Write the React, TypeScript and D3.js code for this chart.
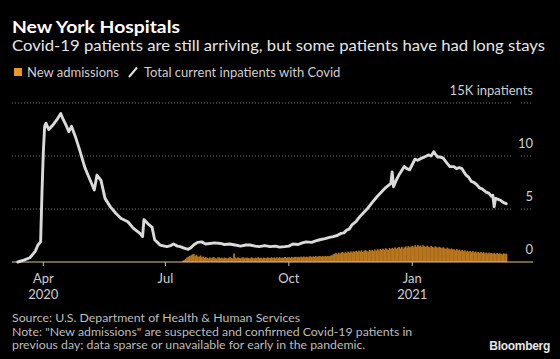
import React from "react";
import * as d3 from "d3";

// ---- data ----
const lineDates = [
  "2020-03-13","2020-03-18","2020-03-22","2020-03-26","2020-03-28","2020-03-30","2020-03-31","2020-04-01","2020-04-02","2020-04-03","2020-04-05",
  "2020-04-08","2020-04-11","2020-04-14","2020-04-16","2020-04-18","2020-04-20","2020-04-22","2020-04-25","2020-04-28",
  "2020-05-02","2020-05-05","2020-05-07","2020-05-09","2020-05-11","2020-05-14","2020-05-17","2020-05-21","2020-05-25",
  "2020-05-29","2020-06-03","2020-06-07","2020-06-12","2020-06-14","2020-06-15","2020-06-18","2020-06-21","2020-06-23",
  "2020-06-27","2020-07-02","2020-07-05","2020-07-07","2020-07-10","2020-07-12","2020-07-15","2020-07-18","2020-07-20","2020-07-22",
  "2020-07-25","2020-07-28","2020-07-31","2020-08-03","2020-08-07","2020-08-11","2020-08-14","2020-08-18","2020-08-22",
  "2020-08-26","2020-08-30","2020-09-02","2020-09-06","2020-09-09","2020-09-13","2020-09-17","2020-09-21","2020-09-24",
  "2020-09-28","2020-10-01","2020-10-04","2020-10-08","2020-10-11","2020-10-14","2020-10-18","2020-10-21","2020-10-24",
  "2020-10-28","2020-11-01","2020-11-03","2020-11-06","2020-11-09","2020-11-11","2020-11-13","2020-11-15","2020-11-17",
  "2020-11-20","2020-11-23","2020-11-26","2020-11-29","2020-12-02","2020-12-06","2020-12-09","2020-12-12","2020-12-14",
  "2020-12-16","2020-12-17","2020-12-18","2020-12-20","2020-12-22","2020-12-24","2020-12-26","2020-12-28","2020-12-30",
  "2021-01-01","2021-01-03","2021-01-05","2021-01-08","2021-01-10","2021-01-13","2021-01-15","2021-01-17","2021-01-18",
  "2021-01-20","2021-01-22","2021-01-24","2021-01-27","2021-01-29","2021-02-01","2021-02-03","2021-02-05","2021-02-07",
  "2021-02-10","2021-02-12","2021-02-14","2021-02-16","2021-02-18","2021-02-20","2021-02-22","2021-02-25","2021-02-27",
  "2021-03-01","2021-03-02","2021-03-03","2021-03-04","2021-03-06","2021-03-08","2021-03-10","2021-03-12"
];
const lineValues = [
  0.0,0.2,0.4,1.0,1.6,1.9,6.5,10.3,12.8,13.1,12.5,
  12.9,13.4,14.0,13.4,12.9,12.3,12.8,11.8,10.6,
  8.9,8.0,7.4,6.8,8.2,7.7,6.0,5.2,4.6,
  4.1,3.8,3.2,2.7,2.4,4.0,3.6,3.3,2.1,
  1.6,1.45,1.55,1.7,1.5,1.45,1.3,1.2,1.35,1.6,
  1.85,1.9,1.7,1.75,1.8,1.75,1.65,1.7,1.6,
  1.5,1.6,1.6,1.5,1.45,1.55,1.45,1.5,1.4,
  1.45,1.5,1.7,1.65,1.8,1.9,1.85,2.0,2.1,
  2.2,2.35,2.4,2.5,2.7,2.75,3.0,3.1,3.5,
  3.8,4.3,4.7,5.1,5.6,6.2,6.6,7.0,7.2,
  7.4,8.5,7.1,7.7,8.2,8.6,9.0,8.8,8.7,
  9.2,9.7,9.6,9.8,9.9,10.1,10.0,10.4,10.2,
  9.9,9.9,9.8,9.3,9.0,9.0,8.8,8.9,8.8,
  8.2,8.0,7.6,7.5,7.3,7.0,6.9,6.6,6.5,
  6.2,6.3,5.2,6.0,5.9,5.8,5.6,5.5
];

const admissionsStart = "2020-07-14";
const admissions = [
  // Jul 14-31
  0.12,0.2,0.3,0.42,0.5,0.58,0.62,0.72,0.76,0.58,0.68,0.52,0.5,0.62,0.44,0.52,0.4,0.46,
  // Aug
  0.4,0.34,0.44,0.36,0.42,0.46,0.36,0.33,0.42,0.44,0.35,0.41,0.34,0.43,0.37,0.33,0.41,0.45,0.38,0.34,0.8,0.42,0.35,0.43,0.37,0.34,0.41,0.44,0.35,0.4,0.42,
  // Sep
  0.37,0.34,0.43,0.39,0.33,0.41,0.36,0.44,0.37,0.41,0.34,0.42,0.39,0.35,0.44,0.4,0.37,0.45,0.38,0.42,0.36,0.44,0.4,0.46,0.38,0.43,0.41,0.47,0.39,0.44,
  // Oct
  0.45,0.41,0.48,0.42,0.46,0.5,0.43,0.49,0.44,0.51,0.45,0.52,0.46,0.5,0.45,0.52,0.54,0.47,0.53,0.48,0.56,0.49,0.54,0.57,0.5,0.56,0.51,0.58,0.52,0.57,0.54,
  // Nov
  0.6,0.64,0.72,0.78,0.84,0.76,0.88,0.8,0.9,0.94,0.82,0.93,0.86,0.98,0.88,1.0,0.9,1.02,0.94,1.06,0.96,1.08,0.98,1.1,0.95,1.06,1.12,1.02,1.0,1.13,
  // Dec
  1.06,1.15,1.04,1.18,1.08,1.2,1.1,1.24,1.13,1.26,1.16,1.3,1.2,1.14,1.32,1.22,1.34,1.24,1.38,1.26,1.34,1.42,1.28,1.44,1.26,1.38,1.48,1.36,1.5,1.38,1.46,
  // Jan
  1.52,1.4,1.58,1.44,1.6,1.48,1.56,1.42,1.58,1.48,1.42,1.54,1.44,1.38,1.52,1.42,1.36,1.48,1.4,1.34,1.44,1.36,1.3,1.4,1.28,1.24,1.36,1.26,1.2,1.28,1.18,
  // Feb
  1.2,1.1,1.22,1.08,1.16,1.04,1.14,1.02,1.1,0.98,1.07,0.96,1.04,0.93,1.02,0.91,0.99,0.88,0.96,0.86,0.94,0.84,0.92,0.82,0.9,0.8,0.88,0.83,
  // Mar 1-12
  0.84,0.78,0.87,0.76,0.84,0.75,0.82,0.77,0.73,0.82,0.76,0.8
];

const yTicks = [0, 5, 10, 15];
const xTickDates = ["2020-04-01", "2020-07-01", "2020-10-01", "2021-01-01"];
const xTickLabels = ["Apr", "Jul", "Oct", "Jan"];
const xTickYears = ["2020", "", "", "2021"];

const title = "New York Hospitals";
const subtitle = "Covid-19 patients are still arriving, but some patients have had long stays";
const legendItems = ["New admissions", "Total current inpatients with Covid"];
const sourceLines = [
  "Source: U.S. Department of Health & Human Services",
  "Note: \"New admissions\" are suspected and confirmed Covid-19 patients in",
  "previous day; data sparse or unavailable for early in the pandemic.",
];

const FONT = "Lato, 'Open Sans', sans-serif";

export default function App() {
  React.useEffect(() => {
    document.body.style.margin = "0";
    document.body.style.background = "#000";
  }, []);

  const parse = d3.utcParse("%Y-%m-%d");
  const x = d3
    .scaleUtc()
    .domain([parse("2020-04-01")!, parse("2021-01-01")!])
    .range([43.3, 412.3]);
  const y = d3.scaleLinear().domain([0, 15]).range([262, 103]);

  const linePts = lineDates.map((d, i) => ({ date: parse(d)!, v: lineValues[i] }));
  const line = d3
    .line<{ date: Date; v: number }>()
    .x((d) => x(d.date))
    .y((d) => y(d.v))
    .curve(d3.curveLinear);

  const start = parse(admissionsStart)!;
  const bars = admissions.map((v, i) => ({ date: d3.utcDay.offset(start, i), v }));
  const dayW = x(d3.utcDay.offset(start, 1)) - x(start);

  const left = 12;
  const right = 533;

  return (
    <svg
      width={560}
      height={359}
      style={{ position: "absolute", left: 0, top: 0, background: "#000", display: "block" }}
      fontFamily={FONT}
    >
      <rect x={0} y={0} width={560} height={359} fill="#000" />
      <text x={12} y={33} fill="#fff" fontSize={17} fontWeight={700} textLength={168} lengthAdjust="spacingAndGlyphs">{title}</text>
      <text x={12} y={51} fill="#e6e6e6" fontSize={16} textLength={533} lengthAdjust="spacingAndGlyphs">{subtitle}</text>

      {/* legend */}
      <rect x={14} y={68} width={8} height={8} fill="#e8952a" />
      <text x={27} y={76.5} fill="#cfcfcf" fontSize={13}>{legendItems[0]}</text>
      <line x1={129} y1={77} x2={137} y2={67.5} stroke="#e0e0e0" strokeWidth={2} />
      <text x={144} y={76.5} fill="#cfcfcf" fontSize={13}>{legendItems[1]}</text>

      {/* gridlines */}
      {yTicks.filter((t) => t > 0).map((t) => (
        <g key={t}>
          <line x1={left} x2={512} y1={y(t)} y2={y(t)} stroke="#777" strokeWidth={1} strokeDasharray="1,2" />
          <line x1={521} x2={right} y1={y(t)} y2={y(t)} stroke="#777" strokeWidth={1} strokeDasharray="1,2" />
        </g>
      ))}
      {yTicks.map((t) => (
        <text key={"l" + t} x={right} y={y(t) - 8.5} fill="#cfcfcf" fontSize={13} textAnchor="end">
          {t === 15 ? "15K inpatients" : String(t)}
        </text>
      ))}

      {/* bars */}
      {bars.map((b, i) => (
        <rect
          key={i}
          x={x(b.date) - dayW / 2}
          width={dayW + 0.4}
          y={y(b.v)}
          height={y(0) - y(b.v)}
          fill="#b8761d"
        />
      ))}

      {/* axis */}
      <line x1={left} x2={right} y1={y(0)} y2={y(0)} stroke="#d9c3a0" strokeWidth={1.2} />
      {xTickDates.map((d, i) => {
        const xx = x(parse(d)!);
        return (
          <g key={d}>
            <line x1={xx} x2={xx} y1={y(0)} y2={y(0) + 4} stroke="#d9c3a0" strokeWidth={1} />
            <text x={xx} y={283} fill="#cfcfcf" fontSize={13} textAnchor="middle">{xTickLabels[i]}</text>
            {xTickYears[i] && (
              <text x={xx} y={298.5} fill="#cfcfcf" fontSize={13} textAnchor="middle">{xTickYears[i]}</text>
            )}
          </g>
        );
      })}

      {/* line */}
      <path d={line(linePts) || ""} fill="none" stroke="#dadada" strokeWidth={2.9} strokeLinejoin="round" strokeLinecap="round" />

      {/* footer */}
      {sourceLines.map((s, i) => (
        <text key={i} x={12} y={322 + i * 13.5} fill="#bdbdbd" fontSize={12.3}>{s}</text>
      ))}
      <text x={550} y={350} fill="#e6e6e6" fontSize={12} fontWeight={700} textAnchor="end" fontFamily="Arial, 'Liberation Sans', sans-serif" letterSpacing={-0.3}>Bloomberg</text>
    </svg>
  );
}
